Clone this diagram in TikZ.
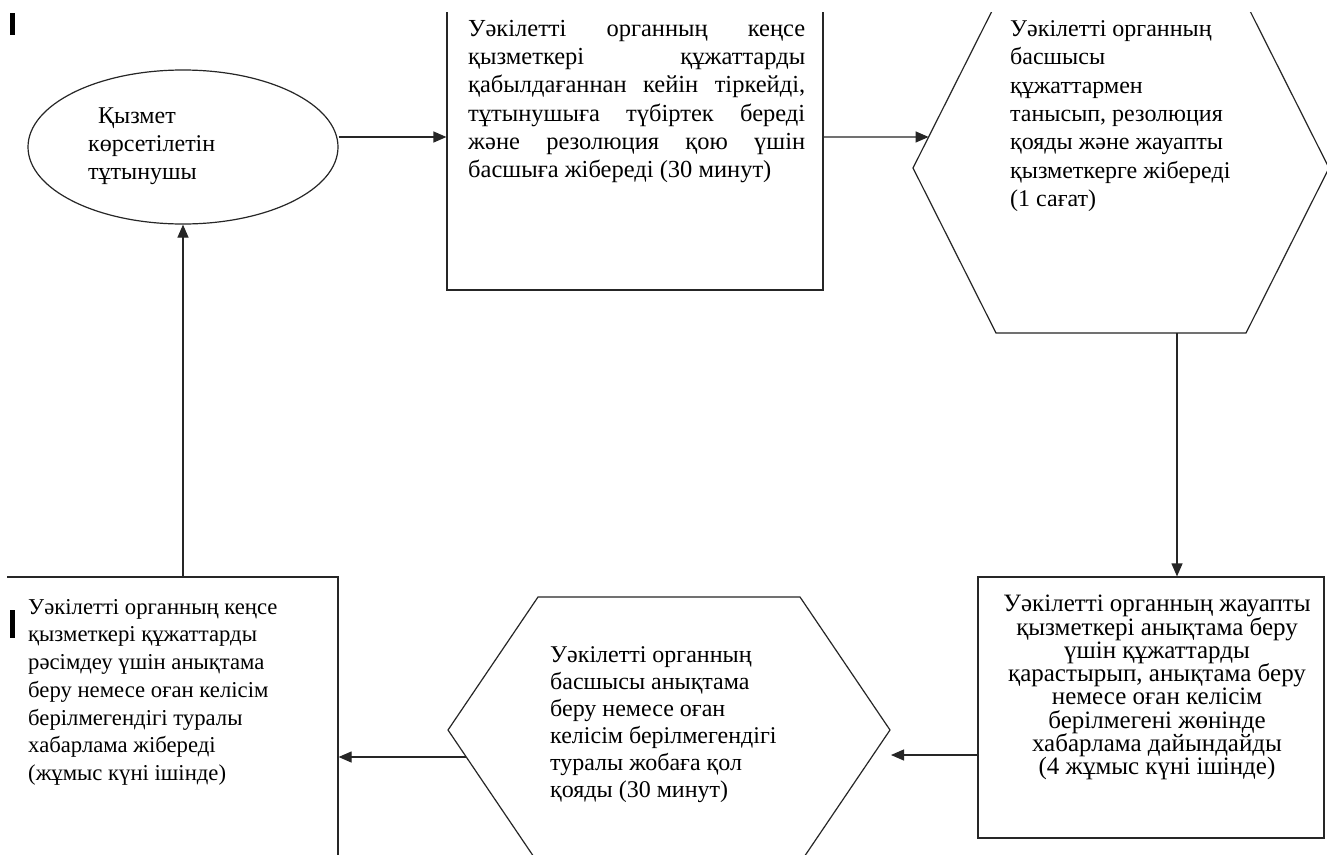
\documentclass[tikz,border=0pt]{standalone}
\usepackage{fontspec}
\setmainfont{Liberation Serif}
\usetikzlibrary{arrows.meta,shapes.geometric,calc}
\newcommand\mystrut{\rule{0pt}{20pt}}
\begin{document}
\begin{tikzpicture}[x=1pt,y=-1pt,
  shp/.style={draw=black!85, line width=1.2pt},
  boxst/.style={shp, rectangle, inner sep=0pt},
  arr/.style={draw=black!85, line width=1.2pt, -{Triangle[length=13pt,width=11pt]}},
  txt/.style={inner sep=0pt, anchor=north west, align=left, text=black},
]
\useasboundingbox (0,0) rectangle (1327,854);
\fill[white] (0,0) rectangle (1327,854);
% small marks
\fill[black] (10,13) rectangle (15,35);
\fill[black] (10,610) rectangle (15,638);

\begin{scope}
\clip (7,12) rectangle (1327,854);
\node[shp, ellipse, minimum width=310pt, minimum height=154pt, inner sep=0pt] (ell) at (183,147) {};
\node[boxst, minimum width=376pt, minimum height=300pt] (box1) at (635,140) {};
\node[boxst, minimum width=346pt, minimum height=261pt] (box2) at (1151,707.5) {};
\node[boxst, minimum width=338pt, minimum height=323pt] (box3) at (169,738.5) {};
% hexagon 1
\coordinate (h1w) at (913,168);
\coordinate (h1nw) at (996,3);
\coordinate (h1ne) at (1246,3);
\coordinate (h1e) at (1329,168);
\coordinate (h1se) at (1246,333);
\coordinate (h1sw) at (996,333);
\draw[shp] (h1w) -- (h1nw) -- (h1ne) -- (h1e) -- (h1se) -- (h1sw) -- cycle;
% hexagon 2
\coordinate (h2w) at (448,730);
\coordinate (h2nw) at (538,597);
\coordinate (h2ne) at (800,597);
\coordinate (h2e) at (890,730);
\coordinate (h2se) at (800,863);
\coordinate (h2sw) at (538,863);
\draw[shp] (h2w) -- (h2nw) -- (h2ne) -- (h2e) -- (h2se) -- (h2sw) -- cycle;
\end{scope}

% texts
\node[txt, font=\fontsize{24}{28}\selectfont] (tell) at (88,103)
  {\mystrut\hspace{10pt}Қызмет\\көрсетілетін\\тұтынушы};
\node[txt, font=\fontsize{24.5}{28.3}\selectfont] (tbox1) at (468,16)
  {\mystrut\makebox[337pt][s]{Уәкілетті органның кеңсе}\\
   \makebox[337pt][s]{қызметкері құжаттарды}\\
   \makebox[337pt][s]{қабылдағаннан кейін тіркейді,}\\
   \makebox[337pt][s]{тұтынушыға түбіртек береді}\\
   \makebox[337pt][s]{және резолюция қою үшін}\\
   басшыға жібереді (30 минут)};
\node[txt, font=\fontsize{24}{28.4}\selectfont] (thex1) at (1010,16)
  {\mystrut Уәкілетті органның\\басшысы\\құжаттармен\\танысып, резолюция\\қояды және жауапты\\қызметкерге жібереді\\(1 сағат)};
\node[txt, anchor=north, align=center, font=\fontsize{25}{23.3}\selectfont] (tbox2) at (1157,591.5)
  {\mystrut Уәкілетті органның жауапты\\қызметкері анықтама беру\\үшін құжаттарды\\қарастырып, анықтама беру\\немесе оған келісім\\берілмегені жөнінде\\хабарлама дайындайды\\(4 жұмыс күні ішінде)};
\node[txt, font=\fontsize{24}{27}\selectfont] (thex2) at (550,642)
  {\mystrut Уәкілетті органның\\басшысы анықтама\\беру немесе оған\\келісім берілмегендігі\\туралы жобаға қол\\қояды (30 минут)};
\node[txt, font=\fontsize{22.7}{27.7}\selectfont] (tbox3) at (28,594)
  {\mystrut Уәкілетті органның кеңсе\\қызметкері құжаттарды\\рәсімдеу үшін анықтама\\беру немесе оған келісім\\берілмегендігі туралы\\хабарлама жібереді\\(жұмыс күні ішінде)};

% connectors
\coordinate (a1y) at (0,137);
\coordinate (a2e) at ($(h1w)!0.188!(h1nw)$);
\coordinate (a3s) at ($(h1sw)!0.724!(h1se)$);
\coordinate (a4e) at (891,755);
\coordinate (a5s) at ($(h2w)!0.203!(h2sw)$);
\draw[arr] (ell.east |- a1y) -- (box1.west |- a1y);
\draw[arr] (box1.east |- a1y) -- (a2e);
\draw[arr] (a3s) -- (box2.north -| a3s);
\draw[arr] (box2.west |- a4e) -- (a4e);
\draw[arr] (a5s) -- (box3.east |- a5s);
\draw[arr] (box3.north -| ell.south) -- (ell.south);
\end{tikzpicture}
\end{document}
